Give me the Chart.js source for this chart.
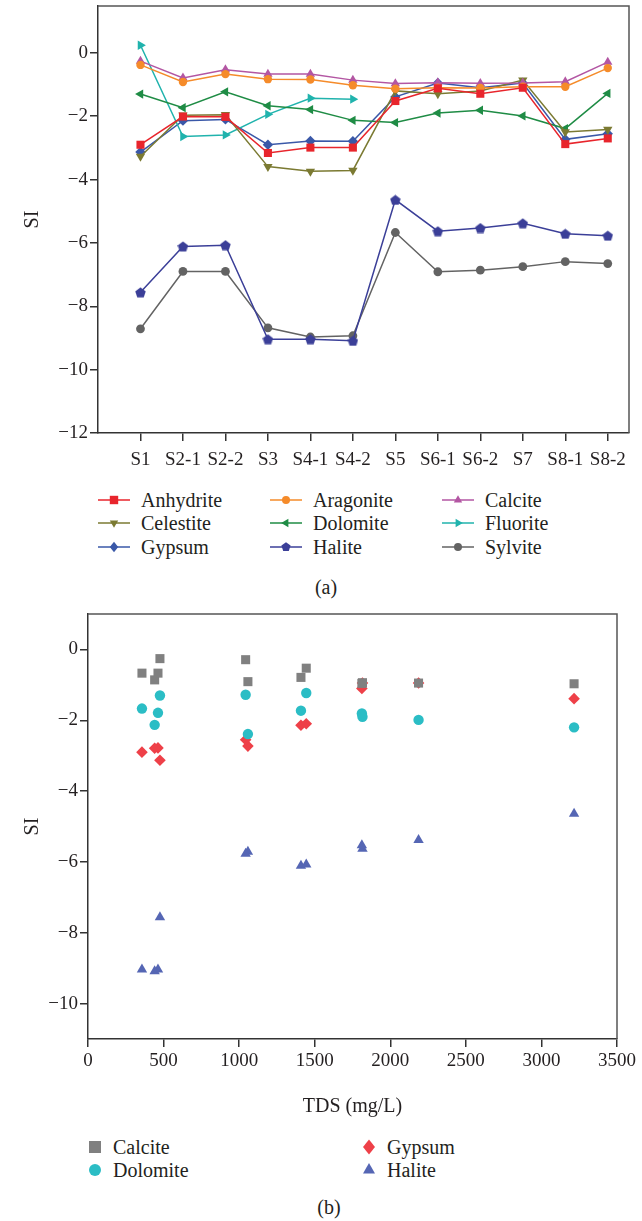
<!DOCTYPE html>
<html>
<head>
<meta charset="utf-8">
<script src="https://cdn.jsdelivr.net/npm/chart.js@4.4.1/dist/chart.umd.min.js"></script>
<style>
body { margin: 0; background: #fff; width: 642px; height: 1221px; position: relative; overflow: hidden;
       font-family: "Liberation Serif", "DejaVu Serif", serif; color: #231f20; }
canvas { position: absolute; left: 0; }
#chartA { top: 0; }
#chartB { top: 600px; }
.item { position: absolute; height: 24px; display: flex; align-items: center; white-space: nowrap; font-size: 20px; }
.item svg { margin-right: 11px; }
.cap { position: absolute; font-size: 20px; transform: translate(-50%, -50%); }
</style>
</head>
<body>
<canvas id="chartA" width="642" height="480"></canvas>
<canvas id="chartB" width="642" height="525"></canvas>
<div id="legendA"></div>
<div id="legendB"></div>
<div class="cap" style="left:326px; top:587px">(a)</div>
<div class="cap" style="left:329px; top:1207px">(b)</div>
<script>
"use strict"

// sampling points (top chart categories)
const samples = ['S1', 'S2-1', 'S2-2', 'S3', 'S4-1', 'S4-2', 'S5', 'S6-1', 'S6-2', 'S7', 'S8-1', 'S8-2'];

// saturation indices
const anhydrite = [-2.90, -2.01, -2.02, -3.16, -2.99, -2.99, -1.52, -1.12, -1.29, -1.10, -2.88, -2.70];
const aragonite = [-0.38, -0.92, -0.67, -0.83, -0.84, -1.02, -1.13, -1.10, -1.11, -1.07, -1.07, -0.48];
const calcite   = [-0.26, -0.79, -0.53, -0.67, -0.67, -0.86, -0.97, -0.94, -0.96, -0.95, -0.91, -0.29];
const celestite = [-3.27, -1.97, -1.95, -3.59, -3.74, -3.71, -1.20, -1.29, -1.20, -0.86, -2.50, -2.42];
const dolomite  = [-1.30, -1.73, -1.23, -1.67, -1.79, -2.13, -2.20, -1.90, -1.81, -1.99, -2.39, -1.28];
const fluorite  = [0.24, -2.64, -2.59, -1.94, -1.43, -1.46, null, null, null, null, null, null];
const gypsum    = [-3.13, -2.14, -2.10, -2.90, -2.78, -2.79, -1.39, -0.95, -1.10, -0.95, -2.73, -2.55];
const halite    = [-7.56, -6.11, -6.07, -9.04, -9.04, -9.09, -4.64, -5.63, -5.53, -5.38, -5.71, -5.77];
const sylvite   = [-8.71, -6.90, -6.90, -8.68, -8.97, -8.93, -5.67, -6.91, -6.86, -6.75, -6.59, -6.65];

// TDS of each sample (mg/L), bottom chart x values
const tds = [476, 1409, 1444, 357, 463, 441, 3216, 1816, 1812, 2187, 1058, 1043];

// tick lists
const yTicksA = [0, -2, -4, -6, -8, -10, -12];
const yTicksB = [0, -2, -4, -6, -8, -10];
const xTicksB = [0, 500, 1000, 1500, 2000, 2500, 3000, 3500];

const FONT = "'Liberation Serif', 'DejaVu Serif', serif";
const INK = '#231f20';
const AXIS = '#333333';

function minus(v) {
    return v < 0 ? '\u2212' + Math.abs(v) : String(v);
}

function pentagon(color, size) {
    const c = document.createElement('canvas');
    c.width = size; c.height = size;
    const g = c.getContext('2d');
    g.fillStyle = color;
    g.beginPath();
    for (let i = 0; i < 5; i++) {
        const a = -Math.PI / 2 + i * 2 * Math.PI / 5;
        const px = size / 2 + Math.cos(a) * size / 2;
        const py = size / 2 + 0.6 + Math.sin(a) * size / 2;
        if (i == 0) g.moveTo(px, py); else g.lineTo(px, py);
    }
    g.closePath();
    g.fill();
    return c;
}

// name, values, colour, marker, rotation, radius
const seriesA = [
    ['Anhydrite', anhydrite, '#e8252c', 'rect', 0, 5.7],
    ['Aragonite', aragonite, '#f58b2a', 'circle', 0, 4.2],
    ['Calcite', calcite, '#b356a3', 'triangle', 0, 5.4],
    ['Celestite', celestite, '#7b7a32', 'triangle', 180, 5.4],
    ['Dolomite', dolomite, '#1f8c45', 'triangle', -90, 5.4],
    ['Fluorite', fluorite, '#20b3ad', 'triangle', 90, 5.4],
    ['Gypsum', gypsum, '#3a58a8', 'rectRot', 0, 5.2],
    ['Halite', halite, '#3b3f98', 'pentagon', 0, 5.5],
    ['Sylvite', sylvite, '#636363', 'circle', 0, 4.4],
];

// helper: remove label overflow padding so the plot area sits where we want
function pin(size, isX) {
    return function (s) {
        if (isX) s.height = size; else s.width = size;
        s.paddingTop = 0; s.paddingBottom = 0; s.paddingLeft = 0; s.paddingRight = 0;
    };
}

const frame = {
    id: 'frame',
    afterDraw(chart) {
        const ctx = chart.ctx, a = chart.chartArea;
        ctx.save();
        ctx.strokeStyle = '#555';
        ctx.lineWidth = 1.5;
        ctx.beginPath();
        ctx.moveTo(a.left, a.top);
        ctx.lineTo(a.right, a.top);
        ctx.lineTo(a.right, a.bottom);
        ctx.stroke();
        ctx.restore();
    }
};

const tickFont = { family: FONT, size: 19 };
const titleFont = { family: FONT, size: 20 };

new Chart(document.getElementById('chartA'), {
    type: 'line',
    data: {
        datasets: seriesA.map(s => ({
            label: s[0],
            data: samples.map((n, i) => ({ x: i + 1, y: s[1][i] })),
            borderColor: s[2],
            backgroundColor: s[2],
            pointBackgroundColor: s[2],
            pointBorderColor: s[2],
            pointBorderWidth: 0,
            pointStyle: s[3] == 'pentagon' ? pentagon(s[2], 11) : s[3],
            pointRotation: s[4],
            pointRadius: s[5],
            borderWidth: 1.5,
            tension: 0,
            spanGaps: false,
        }))
    },
    options: {
        responsive: false,
        animation: false,
        events: [],
        layout: { padding: { left: 0, right: 13, top: 6, bottom: 0 } },
        plugins: { legend: { display: false }, tooltip: { enabled: false } },
        scales: {
            x: {
                type: 'linear', min: 0, max: 12.5,
                afterBuildTicks: s => { s.ticks = samples.map((n, i) => ({ value: i + 1 })); },
                afterFit: pin(47, true),
                border: { color: AXIS, width: 1.5 },
                grid: { drawOnChartArea: false, tickLength: 8, color: AXIS, lineWidth: 1.5 },
                ticks: { autoSkip: false, maxRotation: 0, padding: 8, color: INK, font: tickFont,
                         callback: v => samples[v - 1] }
            },
            y: {
                min: -12, max: 1.48,
                afterBuildTicks: s => { s.ticks = yTicksA.map(v => ({ value: v })); },
                afterFit: pin(98, false),
                border: { color: AXIS, width: 1.5 },
                grid: { drawOnChartArea: false, tickLength: 8, color: AXIS, lineWidth: 1.5 },
                ticks: { padding: 2, color: INK, font: tickFont, callback: v => minus(v) },
                title: { display: true, text: 'SI', color: INK, font: titleFont, padding: { top: 21, bottom: 0 } }
            }
        }
    },
    plugins: [frame]
});

// bottom chart: name, values, colour, marker, radius
const seriesB = [
    ['Calcite', calcite, '#808080', 'rect', 6.4],
    ['Dolomite', dolomite, '#2bbdc5', 'circle', 5.2],
    ['Gypsum', gypsum, '#ee4048', 'rectRot', 5.8],
    ['Halite', halite, '#5566b4', 'triangle', 6],
];

new Chart(document.getElementById('chartB'), {
    type: 'scatter',
    data: {
        datasets: seriesB.map(s => ({
            label: s[0],
            data: tds.map((t, i) => ({ x: t, y: s[1][i] })),
            backgroundColor: s[2],
            borderColor: s[2],
            borderWidth: 0,
            pointStyle: s[3],
            pointRadius: s[4],
        }))
    },
    options: {
        responsive: false,
        animation: false,
        events: [],
        layout: { padding: { left: 0, right: 25, top: 14, bottom: 0 } },
        plugins: { legend: { display: false }, tooltip: { enabled: false } },
        scales: {
            x: {
                type: 'linear', min: 0, max: 3500,
                afterBuildTicks: s => { s.ticks = xTicksB.map(v => ({ value: v })); },
                afterFit: pin(86, true),
                border: { color: AXIS, width: 1.5 },
                grid: { drawOnChartArea: false, tickLength: 8, color: AXIS, lineWidth: 1.5 },
                ticks: { autoSkip: false, maxRotation: 0, padding: 3, color: INK, font: tickFont,
                         callback: v => String(v) },
                title: { display: true, text: 'TDS (mg/L)', color: INK, font: titleFont, padding: { top: 0, bottom: 6 } }
            },
            y: {
                min: -11, max: 1,
                afterBuildTicks: s => { s.ticks = yTicksB.map(v => ({ value: v })); },
                afterFit: pin(88, false),
                border: { color: AXIS, width: 1.5 },
                grid: { drawOnChartArea: false, tickLength: 8, color: AXIS, lineWidth: 1.5 },
                ticks: { padding: 2, color: INK, font: tickFont, callback: v => minus(v) },
                title: { display: true, text: 'SI', color: INK, font: titleFont, padding: { top: 21, bottom: 0 } }
            }
        }
    },
    plugins: [frame]
});

// legends as html, icons as small svg
function marker(shape, rot, color, cx, cy, r) {
    if (shape == 'rect') return `<rect x="${cx - r}" y="${cy - r}" width="${2 * r}" height="${2 * r}" fill="${color}"/>`;
    if (shape == 'circle') return `<circle cx="${cx}" cy="${cy}" r="${r}" fill="${color}"/>`;
    if (shape == 'rectRot') return `<polygon points="${cx},${cy - r * 1.25} ${cx + r},${cy} ${cx},${cy + r * 1.25} ${cx - r},${cy}" fill="${color}"/>`;
    let pts = [];
    const n = shape == 'pentagon' ? 5 : 3;
    for (let i = 0; i < n; i++) {
        const a = (rot - 90 + i * 360 / n) * Math.PI / 180;
        pts.push((cx + Math.cos(a) * r * 1.15).toFixed(1) + ',' + (cy + Math.sin(a) * r * 1.15).toFixed(1));
    }
    return `<polygon points="${pts.join(' ')}" fill="${color}"/>`;
}

const colX = [98, 270, 442];
const rowY = [500, 523, 547];
let htmlA = '';
seriesA.forEach((s, i) => {
    const x = colX[i % 3], y = rowY[Math.floor(i / 3)];
    const r = s[3] == 'circle' ? 4 : 4.2;
    htmlA += `<div class="item" style="left:${x}px; top:${y - 12}px">` +
        `<svg width="32" height="14"><line x1="0" y1="7" x2="32" y2="7" stroke="${s[2]}" stroke-width="1.5"/>` +
        marker(s[3], s[4], s[2], 16, 7, r) + `</svg>${s[0]}</div>`;
});
document.getElementById('legendA').innerHTML = htmlA;

const posB = [[88, 1147], [88, 1170], [362, 1147], [362, 1170]];
let htmlB = '';
seriesB.forEach((s, i) => {
    const p = posB[i];
    htmlB += `<div class="item" style="left:${p[0]}px; top:${p[1] - 12}px">` +
        `<svg width="14" height="16" style="margin-right:11px">` + marker(s[3], 0, s[2], 7, 8, 6) +
        `</svg>${s[0]}</div>`;
});
document.getElementById('legendB').innerHTML = htmlB;
</script>
</body>
</html>
